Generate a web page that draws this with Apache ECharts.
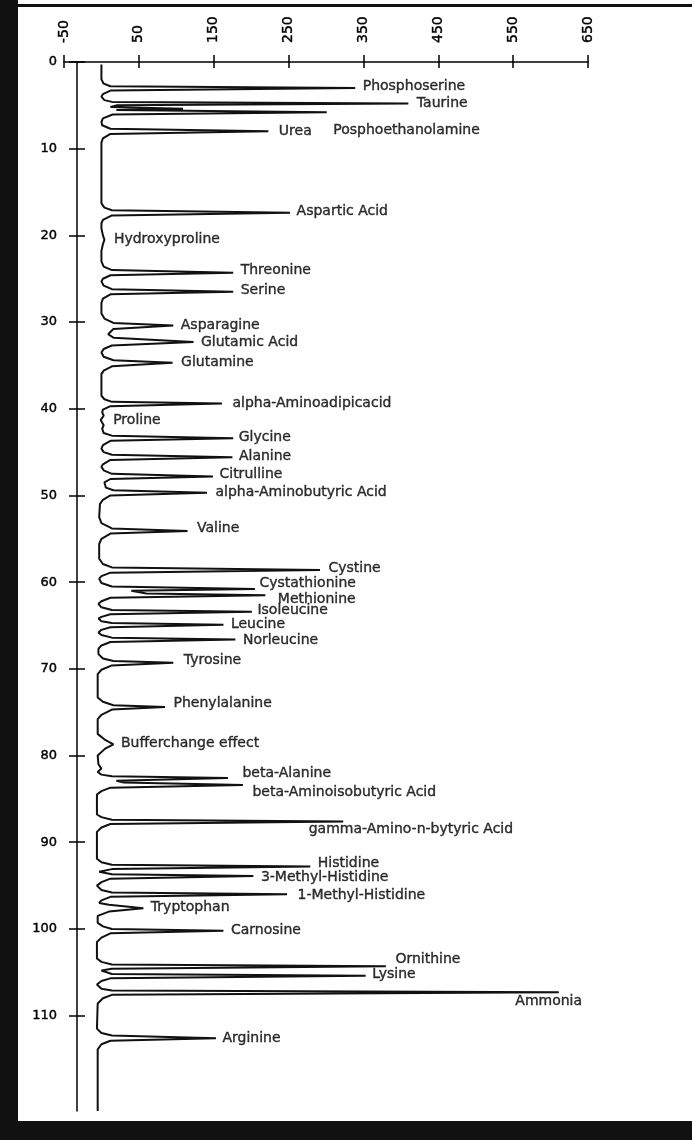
<!DOCTYPE html>
<html>
<head>
<meta charset="utf-8">
<script src="https://cdn.jsdelivr.net/npm/echarts@6/dist/echarts.min.js"></script>
<style>
  html, body { margin: 0; padding: 0; background: #fff; }
  #chart { width: 692px; height: 1140px; }
</style>
</head>
<body>
<div id="chart"></div>
<script>
// tick labels
var xTicks = [-50, 50, 150, 250, 350, 450, 550, 650];
var yTicks = [0, 10, 20, 30, 40, 50, 60, 70, 80, 90, 100, 110];

// peaks: name, retention time (y), detector signal at apex (x)
var peakNames = ['Phosphoserine', 'Taurine', 'Posphoethanolamine', 'Urea', 'Aspartic Acid',
  'Hydroxyproline', 'Threonine', 'Serine', 'Asparagine', 'Glutamic Acid', 'Glutamine',
  'alpha-Aminoadipicacid', 'Proline', 'Glycine', 'Alanine', 'Citrulline',
  'alpha-Aminobutyric Acid', 'Valine', 'Cystine', 'Cystathionine', 'Methionine',
  'Isoleucine', 'Leucine', 'Norleucine', 'Tyrosine', 'Phenylalanine', 'Bufferchange effect',
  'beta-Alanine', 'beta-Aminoisobutyric Acid', 'gamma-Amino-n-bytyric Acid', 'Histidine',
  '3-Methyl-Histidine', '1-Methyl-Histidine', 'Tryptophan', 'Carnosine', 'Ornithine',
  'Lysine', 'Ammonia', 'Arginine'];
var peakTimes = [3.0, 4.8, 5.8, 8.0, 17.4, 20.5, 24.3, 26.5, 30.4, 32.3, 34.7, 39.4, 41.3,
  43.4, 45.6, 47.8, 49.7, 54.1, 58.6, 60.8, 61.5, 63.4, 64.9, 66.6, 69.3, 74.4, 78.7,
  82.6, 83.4, 87.6, 92.8, 93.9, 96.0, 97.6, 100.2, 104.3, 105.4, 107.3, 112.6];
var peakHeights = [339, 410, 301, 223, 252, 4, 176, 176, 96, 123, 95, 161, 3, 176, 175,
  149, 141, 115, 292, 205, 219, 201, 163, 179, 96, 85, 16, 169, 189, 323, 279, 203, 248,
  56, 163, 380, 353, 611, 153];

// label placement relative to each apex (px)
var labelOffsets = [[7, -2], [8, 0], [6, 18], [10, 0], [6, -1], [9, 0], [7, -2], [7, -1],
  [7, 0], [7, 0], [8, 0], [10, 0], [9, 0], [5, -1], [6, -1], [6, -2], [8, -1], [9, -3],
  [8, -2], [4, -6], [12, 4], [5, -1], [7, 0], [7, 1], [10, -2], [8, -4], [7, -1], [14, -5],
  [9, 7], [-35, 8], [7, -3], [7, 1], [10, 1], [7, -1], [7, 0], [9, -7], [6, -1], [-44, 9],
  [6, 0]];

// chromatogram trace: [time, signal]
var trace = [
  [0.3, 0], [2.0, 0], [2.5, 3], [2.8, 12], [3.0, 339], [3.3, 12], [3.7, 2], [4.0, 0],
  [4.4, 4], [4.6, 14], [4.8, 410], [5.0, 20], [5.2, 12], [5.4, 109], [5.55, 20], [5.7, 20],
  [5.8, 301], [6.05, 15], [6.5, 2], [6.9, 0],
  [7.3, 1], [7.7, 12], [8.0, 223], [8.3, 12], [8.8, 2], [9.3, 0],
  [16.3, 0], [16.8, 4], [17.1, 14], [17.4, 252], [17.7, 14], [18.2, 2], [18.6, 0],
  [19.2, 0], [20.0, 2], [20.5, 4], [21.0, 2], [21.8, 0],
  [23.0, 0], [23.6, 3], [24.0, 14], [24.3, 176], [24.6, 12], [25.0, 2], [25.3, 0],
  [25.8, 3], [26.2, 14], [26.5, 176], [26.8, 12], [27.3, 2], [27.8, 0],
  [29.0, 0], [29.6, 4], [30.1, 16], [30.4, 96], [30.8, 16], [31.4, 9],
  [31.8, 16], [32.3, 123], [32.7, 14], [33.1, 3], [33.5, 0],
  [34.0, 3], [34.4, 16], [34.7, 95], [35.1, 14], [35.6, 3], [36.0, 0],
  [38.5, 0], [38.9, 4], [39.2, 14], [39.4, 161], [39.7, 12], [40.1, 2], [40.4, 1],
  [40.8, 3], [41.3, -1], [41.9, 3], [42.3, 1],
  [42.8, 3], [43.1, 14], [43.4, 176], [43.7, 12], [44.2, 2], [44.6, 0],
  [45.0, 3], [45.3, 14], [45.6, 175], [45.9, 12], [46.4, 2], [46.7, 0],
  [47.1, 3], [47.5, 14], [47.8, 149], [48.1, 12], [48.5, 4], [48.7, 3],
  [49.1, 6], [49.4, 16], [49.7, 141], [50.0, 12], [50.5, 2], [51.0, -2],
  [52.5, -3], [53.2, 0], [53.8, 14], [54.1, 115], [54.4, 12], [55.0, 0], [55.6, -3],
  [57.3, -3], [57.9, 2], [58.3, 14], [58.6, 292], [58.9, 12], [59.3, 0], [59.6, -3],
  [60.1, 0], [60.5, 14], [60.8, 205], [61.0, 40], [61.3, 60], [61.5, 219], [61.8, 12],
  [62.2, 0], [62.5, -4],
  [62.9, 0], [63.2, 14], [63.4, 201], [63.7, 12], [64.0, 0], [64.2, -4],
  [64.5, 0], [64.7, 14], [64.9, 163], [65.2, 12], [65.5, 0], [65.8, -4],
  [66.1, 0], [66.4, 14], [66.6, 179], [66.9, 12], [67.3, 0], [67.7, -4],
  [68.3, -4], [68.8, 2], [69.1, 16], [69.3, 96], [69.6, 14], [70.1, 0], [70.6, -5],
  [73.3, -5], [73.8, 2], [74.2, 16], [74.4, 85], [74.7, 14], [75.3, 0], [75.8, -5],
  [77.5, -5], [78.2, 5], [78.7, 16], [79.2, 5], [80.0, -5],
  [81.0, -4], [81.5, 0], [81.9, -5],
  [82.2, 0], [82.4, 14], [82.6, 169], [82.9, 20], [83.1, 30], [83.4, 189], [83.7, 12],
  [84.1, 0], [84.5, -6],
  [86.8, -6], [87.1, 0], [87.4, 14], [87.6, 323], [87.9, 12], [88.3, 0], [88.8, -6],
  [91.9, -6], [92.3, 0], [92.6, 14], [92.8, 279], [93.1, 14], [93.4, -3],
  [93.7, 14], [93.9, 203], [94.2, 12], [94.6, 0], [95.0, -6],
  [95.5, 0], [95.8, 14], [96.0, 248], [96.3, 12], [96.7, 0], [97.0, -3],
  [97.2, 10], [97.6, 56], [98.0, 10], [98.5, -5],
  [99.3, -5], [99.7, 2], [100.0, 14], [100.2, 163], [100.5, 12], [101.0, 0], [101.5, -6],
  [103.4, -6], [103.8, 0], [104.1, 14], [104.3, 380], [104.6, 14], [104.8, 0],
  [105.0, 2], [105.2, 14], [105.4, 353], [105.7, 12], [106.0, 0], [106.4, -6],
  [106.9, 0], [107.1, 14], [107.3, 611], [107.6, 14], [108.0, 2], [108.6, -5],
  [111.5, -6], [112.0, 0], [112.3, 14], [112.6, 153], [112.9, 12], [113.3, 0], [113.9, -5],
  [121, -5]
];

var ink = '#000';
var font = 'DejaVu Sans';

var chart = echarts.init(document.getElementById('chart'), null, { renderer: 'canvas' });

var peakData = peakNames.map(function (n, i) {
  return {
    name: n,
    value: [peakHeights[i], peakTimes[i]],
    label: { offset: labelOffsets[i] }
  };
});

var option = {
  animation: false,
  backgroundColor: '#fff',
  grid: { left: 64, right: 104, top: 62, bottom: 29 },
  xAxis: [
    {
      type: 'value', position: 'top', min: -50, max: 650,
      axisLine: { show: true, onZero: false, lineStyle: { color: ink, width: 1.5 } },
      axisTick: { show: true, length: 7, customValues: xTicks, lineStyle: { color: ink, width: 1.5 } },
      axisLabel: {
        customValues: xTicks, rotate: -90, margin: 19, fontSize: 14, color: ink, fontFamily: font,
        textBorderColor: ink, textBorderWidth: 0.4
      },
      splitLine: { show: false }
    },
    {
      type: 'value', position: 'top', min: -50, max: 650,
      axisLine: { show: false, onZero: false },
      axisTick: { show: true, inside: true, length: 6, customValues: xTicks, lineStyle: { color: ink, width: 1.5 } },
      axisLabel: { show: false },
      splitLine: { show: false }
    }
  ],
  yAxis: [
    {
      type: 'value', position: 'left', inverse: true, min: 0, max: 121, offset: -13,
      axisLine: { show: true, onZero: false, lineStyle: { color: ink, width: 1.5 } },
      axisTick: { show: true, length: 8, customValues: yTicks, lineStyle: { color: ink, width: 1.5 } },
      axisLabel: {
        customValues: yTicks, margin: 20, fontSize: 13, color: ink, fontFamily: font,
        textBorderColor: ink, textBorderWidth: 0.4
      },
      splitLine: { show: false }
    },
    {
      type: 'value', position: 'left', inverse: true, min: 0, max: 121, offset: -13,
      axisLine: { show: false, onZero: false },
      axisTick: { show: true, inside: true, length: 8, customValues: yTicks, lineStyle: { color: ink, width: 1.5 } },
      axisLabel: { show: false },
      splitLine: { show: false }
    }
  ],
  series: [
    {
      type: 'line',
      xAxisIndex: 0, yAxisIndex: 0,
      data: trace.map(function (p) { return [p[1], p[0]]; }),
      showSymbol: false,
      symbol: 'none',
      lineStyle: { color: '#111', width: 2 },
      silent: true
    },
    {
      type: 'scatter',
      xAxisIndex: 0, yAxisIndex: 0,
      data: peakData,
      symbolSize: 1,
      itemStyle: { color: 'rgba(0,0,0,0)' },
      label: {
        show: true, position: 'right', distance: 0, formatter: '{b}',
        fontSize: 14, color: ink, fontFamily: font, align: 'left', verticalAlign: 'middle',
        textBorderColor: ink, textBorderWidth: 0.4
      },
      silent: true,
      z: 5
    }
  ],
  graphic: [
    // scanned page edges
    { type: 'rect', shape: { x: 0, y: 0, width: 18, height: 1140 }, style: { fill: '#111' } },
    { type: 'rect', shape: { x: 18, y: 4, width: 674, height: 3 }, style: { fill: '#111' } },
    { type: 'rect', shape: { x: 0, y: 1121, width: 692, height: 19 }, style: { fill: '#111' } }
  ]
};

chart.setOption(option);
</script>
</body>
</html>
